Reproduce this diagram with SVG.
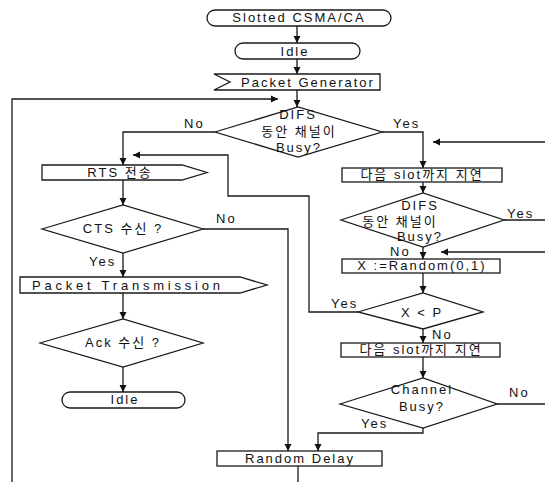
<svg xmlns="http://www.w3.org/2000/svg" width="545" height="482" viewBox="0 0 545 482">
<style>
.s{fill:#fff;stroke:#1a1a1a;stroke-width:1.3}
.c{fill:none;stroke:#1a1a1a;stroke-width:1.3}
text{font-family:"Liberation Sans","Noto Sans CJK KR",sans-serif;font-size:13px;fill:#111;letter-spacing:2px}
.m{text-anchor:middle}
</style>
<defs>
<marker id="a" markerWidth="8" markerHeight="8" refX="7" refY="4" orient="auto" markerUnits="userSpaceOnUse">
<path d="M0,0.5 L7,4 L0,7.5 z" fill="#111"/>
</marker>
</defs>
<rect width="545" height="482" fill="#fff"/>
<g id="connectors" class="c">
<path d="M297,26 V43" marker-end="url(#a)"/>
<path d="M297,59 V74" marker-end="url(#a)"/>
<path d="M297,90 V107" marker-end="url(#a)"/>
<path d="M12,482 V99 H278" marker-end="url(#a)"/>
<path d="M215,132 H123 V165" marker-end="url(#a)"/>
<path d="M382,132 H423 V168" marker-end="url(#a)"/>
<path d="M545,142 H433" marker-end="url(#a)"/>
<path d="M423,182 V193" marker-end="url(#a)"/>
<path d="M504,220 H545"/>
<path d="M423,247 V259" marker-end="url(#a)"/>
<path d="M545,252 H441" marker-end="url(#a)"/>
<path d="M423,273 V293" marker-end="url(#a)"/>
<path d="M358,312 H309 V196 H228 V155 H133" marker-end="url(#a)"/>
<path d="M123,180 V205" marker-end="url(#a)"/>
<path d="M203,229 H288 V451" marker-end="url(#a)"/>
<path d="M123,253 V277" marker-end="url(#a)"/>
<path d="M123,293 V319" marker-end="url(#a)"/>
<path d="M123,367 V392" marker-end="url(#a)"/>
<path d="M423,329 V343" marker-end="url(#a)"/>
<path d="M423,357 V378" marker-end="url(#a)"/>
<path d="M497,404 H545"/>
<path d="M423,428 V433 H318 V451" marker-end="url(#a)"/>
<path d="M298,466 V482"/>
</g>
<g id="start">
<rect class="s" x="207" y="10" width="184" height="16" rx="8"/>
<text class="m" x="299" y="22">Slotted CSMA/CA</text>
</g>
<g id="idle1">
<rect class="s" x="235" y="43" width="125" height="16" rx="8"/>
<text class="m" x="295" y="56">Idle</text>
</g>
<g id="packet-generator">
<polygon class="s" points="214,74 380,74 380,90 214,90 230,82"/>
<text class="m" x="308" y="87">Packet Generator</text>
</g>
<g id="difs1">
<polygon class="s" points="215,132 298,107 382,132 298,157"/>
<text class="m" x="298" y="119">DIFS</text>
<text class="m" x="299" y="136">동안 채널이</text>
<text class="m" x="299" y="152">Busy?</text>
</g>
<g id="rts">
<polygon class="s" points="42,165 182,165 207,172.5 182,180 42,180"/>
<text class="m" x="120" y="177">RTS 전송</text>
</g>
<g id="cts">
<polygon class="s" points="42,229 123,205 203,229 123,253"/>
<text class="m" x="123" y="233">CTS 수신 ?</text>
</g>
<g id="packet-transmission">
<polygon class="s" points="20,277 240,277 267,285 240,293 20,293"/>
<text x="32" y="290" textLength="190" lengthAdjust="spacing">Packet Transmission</text>
</g>
<g id="ack">
<polygon class="s" points="40,343 123,319 203,343 123,367"/>
<text class="m" x="123" y="347">Ack 수신 ?</text>
</g>
<g id="idle2">
<rect class="s" x="62" y="392" width="123" height="16" rx="8"/>
<text class="m" x="125" y="404">Idle</text>
</g>
<g id="delay1">
<rect class="s" x="342" y="168" width="160" height="14"/>
<text class="m" x="422" y="179">다음 slot까지 지연</text>
</g>
<g id="difs2">
<polygon class="s" points="341,220 423,193 504,220 423,247"/>
<text class="m" x="420" y="210">DIFS</text>
<text class="m" x="400" y="226">동안 채널이</text>
<text class="m" x="420" y="241">Busy?</text>
</g>
<g id="random">
<rect class="s" x="342" y="259" width="158" height="14"/>
<text class="m" x="422" y="270">X :=Random(0,1)</text>
</g>
<g id="xp">
<polygon class="s" points="358,312 423,293 483,312 423,329"/>
<text class="m" x="422" y="317">X &lt; P</text>
</g>
<g id="delay2">
<rect class="s" x="341" y="343" width="159" height="14"/>
<text class="m" x="421" y="354">다음 slot까지 지연</text>
</g>
<g id="channel">
<polygon class="s" points="340,404 423,378 497,404 423,428"/>
<text class="m" x="422" y="394">Channel</text>
<text class="m" x="422" y="411">Busy?</text>
</g>
<g id="random-delay">
<rect class="s" x="217" y="451" width="165" height="15"/>
<text class="m" x="300" y="463">Random Delay</text>
</g>
<g id="labels">
<text x="184" y="128">No</text>
<text x="393" y="128">Yes</text>
<text x="216" y="223">No</text>
<text x="89" y="266">Yes</text>
<text x="507" y="218">Yes</text>
<text x="390" y="256">No</text>
<text x="331" y="308">Yes</text>
<text x="432" y="339">No</text>
<text x="509" y="397">No</text>
<text x="361" y="428">Yes</text>
</g>
</svg>
